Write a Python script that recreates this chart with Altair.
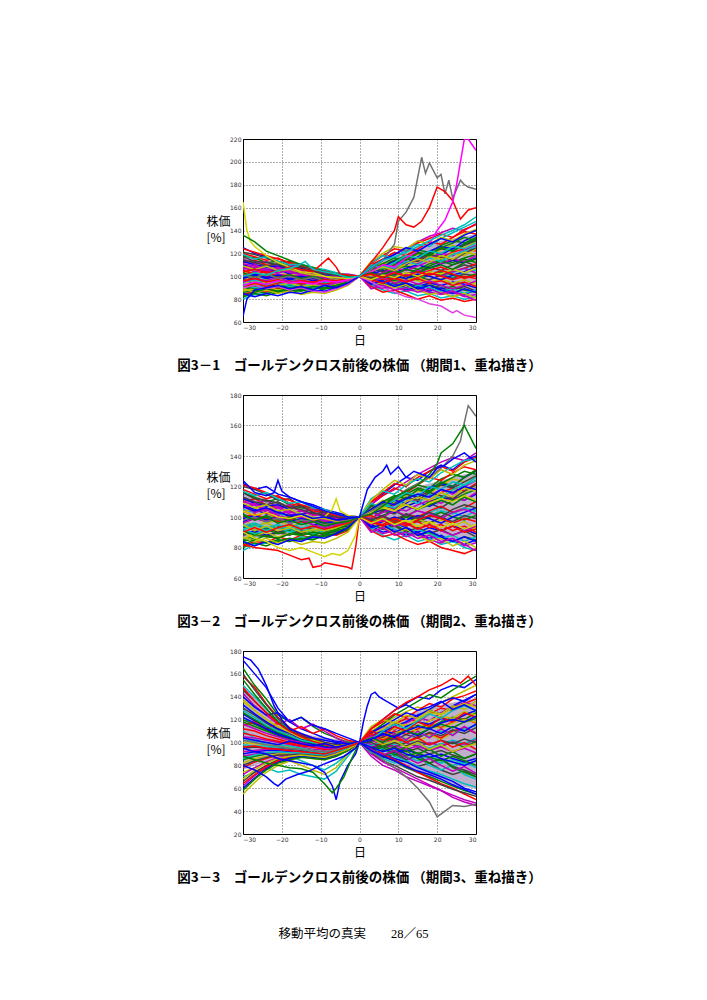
import altair as alt
import pandas as pd

DAYS = [-30, -27, -24, -21, -18, -15, -12, -9, -6, -3, 0, 3, 6, 9, 12, 15, 18, 21, 24, 27, 30]
X_TICKS = [-30, -20, -10, 0, 10, 20, 30]
COLORS = ["#0000ff", "#008000", "#ff0000", "#00bfbf", "#bf00bf", "#bfbf00", "#404040"]

# ---------------- Panel 1 (period 1) ----------------
P1_CORE_LO = [84, 85, 86, 87, 88, 89, 89, 90, 91, 94, 100, 93, 90, 88, 87, 86, 85, 84, 83, 83, 82]
P1_CORE_HI = [118, 116, 113, 111, 108, 106, 104, 103, 101, 100, 100, 108, 113, 118, 122, 126, 129, 131, 133, 135, 137]
P1_LINES = [
    [125,120,117,113,110,107,104,102,101, 98,100,104,107,112,110,116,121,119,124,128,132],
    [118,116,112,113,109,106,105,103, 99, 97,100, 97, 94, 96, 92, 90, 93, 89, 91, 88, 86],
    [112,114,110,108,107,104,106,102,100, 99,100,103,109,106,112,114,118,116,121,124,122],
    [108,105,107,104,103,100,101, 99, 97, 98,100, 95, 98,101, 97,100,104,102, 99,103,106],
    [104,102, 99,101, 98, 97, 99, 96, 95, 97,100,106,104,109,113,111,116,120,118,123,127],
    [100, 98,101, 97, 96, 98, 95, 94, 96, 95,100,101, 98, 95, 99, 96, 93, 97, 94, 91, 95],
    [ 96, 99, 95, 97, 94, 96, 93, 95, 93, 96,100, 98,103,101,106,104,108,105,110,113,109],
    [ 92, 94, 91, 93, 95, 92, 94, 91, 94, 95,100, 94, 90, 93, 88, 91, 87, 90, 86, 84, 88],
    [ 88, 91, 90, 89, 92, 93, 90, 92, 91, 94,100,105,110,114,118,123,121,127,131,129,134],
    [ 84, 87, 86, 90, 88, 91, 89, 92, 90, 93,100, 97,101, 99,103,101,105,108,104,107,111],
    [ 80, 84, 85, 88, 87, 90, 89, 91, 92, 94,100, 92, 88, 85, 87, 83, 85, 81, 83, 80, 82],
    [115,111,113,108,110,105,107,104,101,102,100,108,115,119,124,130,135,138,142,140,146],
    [102,106,103,105,101,103, 99,100, 97, 99,100,102,106,110,108,113,117,115,120,118,124],
    [ 97, 93, 95, 91, 93, 90, 92, 89, 93, 95,100, 99, 95, 98,102, 99, 97,101, 98,102,100],
    [110,107,104,106,102,104,100,101, 98, 97,100, 96, 93, 97, 94, 91, 94, 92, 95, 93, 90],
    [ 86, 88, 85, 87, 86, 88, 86, 89, 90, 93,100,104,101,106,109,106,111,114,112,116,119],
    [120,117,114,116,111,109,106,105,102,100,100,111,118,124,122,129,133,137,134,141,145],
    [ 94, 96, 98, 95, 97, 95, 96, 94, 95, 96,100, 97,100, 97, 95, 98,102,105,103,107,105],
    [106,108,104,103,105,101, 99,100, 98, 97,100, 93, 89, 91, 87, 89, 86, 84, 86, 82, 84],
    [ 99, 95, 97, 94, 95, 93, 95, 92, 94, 96,100,107,112,110,116,119,117,123,127,125,130],
    [ 90, 92, 89, 92, 90, 93, 91, 93, 92, 95,100, 95, 92, 94, 90, 93, 89, 92, 88, 91, 87],
    [113,110,108,109,106,103,104,101,100, 99,100,102,105,103,107,110,107,111,114,112,116],
    [ 82, 85, 83, 86, 88, 87, 90, 89, 91, 93,100, 96, 99, 96,100, 97,101,104,101, 99,102],
    [101,103,100, 98,100, 97, 98, 96, 97, 98,100,110,115,121,118,124,130,128,134,139,137],
    [ 95, 97, 94, 96, 92, 94, 92, 93, 95, 97,100, 92, 95, 92, 89, 92, 90, 87, 89, 85, 88],
    [108,104,106,102,100,101, 98, 99, 96, 98,100, 99,103,107,105,109,113,111,115,113,118],
    [ 87, 89, 91, 88, 90, 89, 92, 90, 93, 94,100,101, 97,100, 96, 99, 95, 98, 94, 97, 93],
    [117,113,112,110,107,106,103,104,100, 99,100,105,109,113,117,115,120,124,122,127,131],
    [ 98,101, 98,100, 97, 99, 96, 97, 95, 98,100, 94, 97,100, 98,102,100, 97,101,104,108],
    [ 92, 89, 93, 90, 92, 89, 91, 90, 92, 94,100, 98,102,105,101,106,109,113,110,115,112],
    [105,102,104,100,101, 98, 99, 97, 96, 97,100, 91, 86, 88, 84, 80, 83, 79, 81, 78, 80],
    [ 93, 90, 92, 94, 91, 93, 90, 92, 94, 96,100,112,118,116,123,128,126,133,138,143,148],
    [111,109,105,107,103,102,100, 98, 99, 97,100,103,100,104,101,105,103,100,104,107,103],
    [ 89, 86, 88, 85, 87, 84, 86, 85, 88, 92,100, 96, 93, 90, 93, 88, 84, 86, 82, 85, 81],
    [121,119,116,112,113,108,107,104,103,101,100,107,104,110,115,113,119,117,114,120,125],
    [ 99,102, 99,101, 98,100, 98, 97, 98, 99,100,103,108,113,111,117,122,126,124,131,136],
    [ 83, 86, 89, 87, 90, 88, 91, 90, 92, 95,100,109,106,112,116,121,119,125,122,128,133],
    [124,121,118,115,112,110,107,105,102,100,100,102, 97, 99, 95, 98, 94, 96, 92, 95, 91],
    [ 91, 95, 92, 96, 93, 97, 94, 96, 95, 97,100,104,109,107,113,110,116,113,119,122,126],
    [107,110,106,108,104,105,102,103,100, 98,100, 95, 99, 94, 97, 93, 96, 92, 89, 92, 96],
    [ 96, 92, 95, 92, 94, 91, 93, 92, 94, 96,100,113,120,126,124,131,128,134,131,137,141],
    [114,112,109,111,107,108,104,102,101, 99,100, 98,101, 98,103,100,104,101,106,110,107],
    [ 85, 82, 85, 83, 86, 85, 88, 87, 90, 93,100, 93, 96, 91, 94, 89, 92, 88, 85, 89, 86],
    [103, 99,102, 99,101, 98,100, 97, 96, 98,100,106,111,116,114,120,118,125,129,134,131],
    [ 90, 94, 91, 94, 96, 93, 95, 93, 95, 97,100, 97, 94, 98, 95, 99,103,100, 97,100, 98],
    [119,115,117,113,110,111,107,106,103,101,100,110,107,112,118,116,122,120,126,124,129],
    [ 95, 98, 96, 99, 95, 97, 94, 92, 94, 96,100, 89, 92, 88, 90, 86, 89, 85, 87, 83, 79],
    [109,106,109,105,106,103,101,100, 97, 97,100,104,108,105,111,115,112,118,115,121,119],
]
P1_SPECIAL_DAYS = [
    [-30,-27,-24,-21,-18,-15,-12,-9,-6,-3,0,3,6,9,10,12,14,16,17,18,20,21,22,23,24,26,27,28,30],
    [-30,-27,-24,-21,-18,-15,-12,-9,-6,-3,0,3,6,9,10,12,14,16,18,20,22,24,26,28,30],
    [-30,-27,-24,-21,-18,-15,-12,-9,-6,-3,0,3,6,9,12,15,18,20,22,24,25,26,27,28,29,30],
    [-30,-27,-24,-21,-18,-15,-12,-9,-6,-3,0,3,6,9,12,15,18,21,24,25,27,30],
    [-30,-29,-28,-27,-24,-21,-18,-15,-12,-9,-6,-3,0,3,6,9,12,15,18,21,24,27,30],
    [-30,-29,-27,-24,-21,-18,-15,-12,-9,-6,-3,0,3,6,9,12,15,18,21,24,27,30],
    DAYS,
    [-30,-27,-24,-21,-18,-15,-12,-10,-8,-6,-5,-3,0,3,6,9,12,15,18,21,24,27,30],
    [-30,-27,-24,-21,-18,-16,-14,-12,-9,-6,-3,0,3,6,9,12,15,18,21,24,27,30],
]
P1_SPECIAL_VALUES = [
    [101,99,102,98,100,97,99,96,98,97,100,106,114,128,148,156,169,204,190,199,186,189,172,184,168,184,180,178,176],
    [96,98,95,97,94,96,95,97,96,98,100,112,125,140,152,145,143,148,160,178,174,166,150,158,160],
    [92,95,93,96,94,95,93,96,95,97,100,104,110,108,116,122,128,140,149,165,180,200,220,220,215,210],
    [90,92,89,91,88,90,87,86,89,93,100,95,90,86,82,80,76,74,68,70,66,64],
    [165,140,130,126,118,112,108,104,103,100,99,98,100,97,101,99,103,100,104,102,106,103,107],
    [65,80,88,90,92,89,91,88,92,90,94,100,108,114,119,125,122,128,133,130,136,140],
    [136,130,122,118,114,110,108,104,102,100,100,103,99,102,106,103,107,110,106,112,115],
    [104,106,103,105,108,106,104,110,116,108,102,101,100,102,99,103,100,104,101,105,102,98,101],
    [100,103,101,105,107,109,113,106,104,102,99,100,108,114,117,121,126,131,136,140,145,152],
]
P1_SPECIAL_COLORS = ["#707070", "#ff0000", "#ff00ff", "#e040e0", "#d4d400", "#0000ff", "#008000", "#ff0000", "#00bfbf"]

# ---------------- Panel 2 (period 2) ----------------
P2_CORE_LO = [85, 86, 87, 88, 88, 89, 89, 90, 91, 93, 100, 94, 91, 89, 88, 87, 86, 85, 84, 84, 83]
P2_CORE_HI = [116, 114, 112, 110, 108, 106, 104, 103, 102, 101, 100, 106, 110, 114, 117, 120, 122, 124, 126, 128, 129]
P2_LINES = [
    [122,118,120,115,113,110,108,105,103,101,100,108,115,121,126,124,130,134,131,137,140],
    [116,113,110,112,108,106,105,102,100, 99,100, 96, 92, 95, 91, 88, 90, 86, 84, 87, 85],
    [110,112,108,106,107,104,102,101, 99, 98,100,104,108,105,110,113,111,116,119,117,122],
    [105,103,106,102,101, 99,100, 98, 96, 97,100, 97,100, 98,102, 99,103,106,103,100,104],
    [101, 98,100, 97, 99, 96, 98, 95, 96, 98,100,106,103,108,112,110,114,118,115,120,124],
    [ 97,100, 96, 98, 94, 96, 94, 95, 94, 96,100,101, 97, 94, 97, 93, 95, 91, 94, 90, 93],
    [ 93, 95, 92, 94, 91, 93, 92, 90, 92, 95,100, 99,104,102,107,105,109,106,111,114,110],
    [ 89, 91, 88, 90, 92, 89, 91, 89, 91, 94,100, 94, 90, 92, 88, 90, 86, 88, 84, 82, 85],
    [ 85, 88, 87, 86, 89, 90, 88, 90, 89, 92,100,104,109,113,117,121,119,125,128,126,131],
    [ 81, 84, 83, 87, 85, 88, 86, 89, 88, 91,100, 96,100, 98,102,100,104,107,103,106,110],
    [ 78, 82, 83, 85, 84, 87, 86, 88, 89, 92,100, 92, 88, 85, 88, 84, 86, 82, 84, 80, 78],
    [113,109,111,106,108,104,105,102, 99,100,100,108,114,118,123,128,132,136,139,137,142],
    [103,106,102,104,100,102, 98, 99, 96, 98,100,102,105,109,107,111,115,113,118,116,121],
    [ 95, 91, 93, 90, 92, 89, 91, 88, 92, 94,100, 98, 94, 97,101, 98, 96,100, 97,101, 99],
    [108,105,102,104,100,102, 99,100, 97, 96,100, 96, 92, 96, 93, 90, 93, 91, 94, 92, 89],
    [ 84, 86, 83, 85, 84, 86, 85, 88, 89, 92,100,104,100,105,108,105,110,113,111,115,118],
    [118,115,112,114,109,107,104,103,100, 99,100,110,116,122,120,126,130,133,130,136,139],
    [ 92, 94, 96, 93, 95, 93, 94, 92, 93, 95,100, 96, 99, 96, 94, 97,101,104,102,106,104],
    [106,108,103,102,104,100, 98, 99, 97, 96,100, 93, 89, 91, 87, 89, 85, 83, 86, 81, 83],
    [ 98, 94, 96, 93, 94, 92, 94, 91, 93, 95,100,106,111,109,114,117,115,121,125,123,127],
    [ 88, 90, 87, 90, 88, 91, 89, 91, 90, 93,100, 95, 92, 94, 90, 93, 89, 92, 88, 91, 87],
    [112,109,107,108,105,102,103,100, 99, 98,100,102,105,103,107,110,107,111,113,111,115],
    [ 80, 83, 81, 84, 86, 85, 88, 87, 89, 92,100, 96, 99, 96,100, 97,100,103,100, 98,101],
    [100,102, 99, 97, 99, 96, 97, 95, 96, 97,100,110,114,119,116,121,126,124,129,133,131],
    [ 94, 96, 93, 95, 91, 93, 91, 92, 94, 96,100, 92, 95, 92, 89, 92, 89, 86, 88, 84, 87],
    [107,103,105,101, 99,100, 97, 98, 95, 97,100, 99,103,106,104,108,111,109,113,111,116],
    [ 86, 88, 90, 87, 89, 88, 91, 89, 92, 93,100,101, 97,100, 96, 99, 95, 98, 94, 97, 92],
    [116,112,111,109,106,105,102,103, 99, 98,100,105,108,112,115,113,117,121,119,123,127],
    [ 97,100, 97, 99, 96, 98, 95, 96, 94, 97,100, 94, 97,100, 98,101, 99, 96,100,103,106],
    [ 91, 88, 92, 89, 91, 88, 90, 89, 91, 93,100, 98,101,104,100,105,108,111,108,113,110],
    [104,101,103, 99,100, 97, 98, 96, 95, 96,100, 91, 87, 89, 85, 82, 84, 80, 78, 76, 79],
    [ 92, 89, 91, 93, 90, 92, 89, 91, 93, 95,100,112,117,115,121,125,123,129,133,137,138],
    [110,108,104,106,102,101, 99, 97, 98, 96,100,103,100,104,101,104,102, 99,103,105,102],
    [ 87, 84, 86, 83, 85, 82, 84, 83, 86, 90,100, 96, 93, 90, 92, 88, 84, 86, 81, 84, 80],
    [120,118,115,111,112,107,106,103,102,100,100,107,104,109,113,111,116,114,112,117,121],
    [ 99,101, 98,100, 97, 99, 97, 96, 97, 98,100,103,107,111,109,114,119,122,120,126,130],
    [ 82, 85, 88, 86, 89, 88, 90, 89, 92, 95,100,108,105,111,115,119,117,123,120,126,130],
    [121,119,116,113,111,108,106,104,101,100,100,101, 97, 99, 95, 97, 93, 95, 91, 94, 90],
    [ 92, 95, 91, 95, 92, 96, 93, 95, 94, 97,100,104,108,106,112,109,115,112,118,121,124],
    [106,109,105,107,103,104,101,102, 99, 97,100, 95, 98, 94, 96, 92, 95, 91, 88, 91, 94],
    [ 95, 91, 94, 91, 93, 90, 92, 91, 93, 96,100,111,118,124,121,128,125,131,128,134,137],
    [113,110,108,110,106,107,103,101,100, 99,100, 98,101, 97,102, 99,103,100,105,108,106],
    [ 84, 81, 84, 82, 85, 84, 87, 86, 89, 93,100, 93, 95, 90, 93, 88, 91, 87, 84, 87, 84],
    [102, 98,101, 98,100, 97, 99, 96, 95, 97,100,105,110,114,112,118,116,122,126,130,128],
    [ 90, 93, 90, 93, 95, 92, 94, 92, 94, 96,100, 97, 94, 97, 94, 98,101, 99, 96, 99, 97],
    [117,114,116,112,109,110,106,105,102,100,100,109,106,111,116,114,120,118,123,121,126],
    [ 96, 99, 97,100, 96, 98, 95, 93, 95, 97,100, 90, 93, 88, 90, 86, 88, 84, 86, 82, 78],
    [109,106,108,104,105,102,100, 99, 97, 97,100,104,107,104,110,113,111,116,113,119,117],
]
P2_SPECIAL_DAYS = [
    [-30,-27,-24,-21,-20,-18,-15,-13,-12,-10,-9,-7,-5,-3,-2,-1,0,3,6,9,12,15,18,21,24,27,30],
    [-30,-27,-24,-21,-18,-15,-12,-9,-7,-5,-3,-1,0,3,6,9,12,15,18,21,24,27,30],
    [-30,-27,-24,-21,-18,-15,-12,-9,-7,-6,-5,-3,0,3,6,9,12,15,18,21,24,27,30],
    [-30,-27,-24,-22,-21,-20,-18,-15,-12,-9,-6,-3,0,3,6,9,12,15,18,21,24,27,30],
    [-30,-27,-24,-21,-18,-15,-12,-9,-6,-3,0,3,6,9,12,15,18,21,24,26,27,28,30],
    [-30,-27,-24,-21,-18,-15,-12,-9,-6,-3,0,3,6,9,12,15,18,20,21,24,27,28,30],
    [-30,-27,-24,-21,-18,-15,-12,-9,-6,-3,0,2,4,6,7,8,10,12,14,16,18,20,22,24,27,30],
]
P2_SPECIAL_VALUES = [
    [82,80,79,78,77,75,72,73,67,68,70,69,68,67,66,80,100,97,95,99,96,92,95,91,94,90,92],
    [90,86,84,80,78,80,77,74,76,75,78,88,100,96,99,95,98,94,97,93,96,92,95],
    [104,101,103,100,99,101,98,100,105,112,104,101,100,103,106,104,108,105,109,112,110,114,111],
    [124,116,114,116,124,117,113,110,107,104,102,100,100,105,110,108,112,115,113,118,116,120,118],
    [98,100,97,99,96,98,97,95,96,98,100,104,108,112,118,122,126,132,140,150,162,173,166],
    [101,98,100,96,98,95,97,94,96,97,100,102,107,113,117,121,128,135,142,148,160,155,145],
    [107,104,106,103,101,102,99,100,98,99,100,118,126,130,134,128,133,126,130,128,126,132,134,138,142,136],
]
P2_SPECIAL_COLORS = ["#ff0000", "#d4d400", "#d4d400", "#0000ff", "#707070", "#008000", "#0000ff"]

# ---------------- Panel 3 (period 3) ----------------
P3_CORE_LO = [76, 80, 83, 85, 86, 87, 87, 86, 88, 92, 100, 92, 86, 81, 77, 73, 69, 66, 63, 61, 60]
P3_CORE_HI = [150, 140, 130, 120, 113, 108, 106, 104, 103, 102, 100, 108, 114, 119, 123, 127, 130, 133, 135, 137, 139]
P3_LINES = [
    [172,160,148,130,118,112,108,104,101,100,100,112,120,128,134,140,138,146,150,148,155],
    [165,150,138,124,118,122,114,108,104,100,100, 94, 88, 84, 78, 74, 70, 66, 62, 58, 55],
    [158,148,134,122,113,107,104,100, 98, 97,100,105,110,116,121,118,125,130,128,134,138],
    [150,140,129,119,111,105,102, 99, 97, 99,100, 96, 92, 95, 90, 86, 88, 84, 80, 83, 78],
    [143,132,124,116,120,112,116,110,104, 99,100,108,114,111,117,122,119,126,131,135,132],
    [136,128,120,113,107,103,100, 97, 98, 97,100, 98,102, 99,104,101,106,103,108,112,109],
    [130,124,117,111,106,101, 99, 96, 95, 97,100, 93, 87, 90, 84, 79, 82, 76, 72, 75, 70],
    [125,119,114,108,104,102, 98, 97, 94, 96,100,103,109,114,118,124,128,125,132,137,142],
    [120,116,111,107,103, 99, 97, 95, 96, 98,100, 95, 99, 96,100, 97, 93, 97,100, 96,101],
    [115,118,112,117,110,114,108,112,106,102,100,107,104,110,107,112,116,113,118,121,117],
    [110,104, 98, 92, 88, 84, 80, 76, 82, 90,100, 91, 86, 82, 84, 79, 75, 72, 68, 64, 61],
    [105,104,102,100, 98, 96, 94, 93, 95, 97,100,102, 98,103,100, 96,100, 97,101, 98,103],
    [100, 99, 98, 97, 96, 95, 93, 92, 94, 96,100,110,116,122,127,131,128,135,140,145,150],
    [ 95, 96, 95, 95, 94, 93, 92, 91, 93, 96,100, 97, 93, 96, 92, 95, 90, 93, 89, 86, 90],
    [ 90, 92, 93, 93, 92, 92, 91, 90, 92, 95,100, 94, 90, 86, 83, 78, 74, 70, 66, 60, 57],
    [ 85, 88, 90, 91, 91, 91, 90, 89, 92, 95,100,104,108,106,111,115,113,118,122,120,126],
    [ 78, 83, 86, 89, 90, 90, 89, 88, 91, 94,100, 96,100,104,100,105,108,104,110,113,108],
    [ 70, 74, 78, 74, 76, 72, 70, 68, 75, 88,100, 92, 88, 91, 87, 84, 86, 82, 85, 81, 84],
    [ 62, 71, 78, 84, 86, 88, 87, 86, 89, 93,100, 88, 80, 76, 70, 66, 62, 58, 52, 48, 45],
    [ 55, 65, 74, 80, 84, 87, 86, 85, 88, 93,100,106,112,118,114,120,126,124,130,134,131],
    [146,136,126,118,110,106,102, 99, 97, 99,100,101,105,102,107,104,109,106,111,108,113],
    [133,125,118,112,108,103,100, 98, 99, 98,100, 98, 94, 91, 94, 90, 87, 90, 86, 83, 86],
    [118,114,110,106,102,100, 98, 96, 96, 98,100,108,116,124,130,136,142,139,146,152,158],
    [108,106,103,101, 99, 97, 96, 94, 93, 96,100, 95, 90, 85, 80, 74, 69, 64, 60, 55, 50],
    [ 98, 97, 97, 96, 95, 94, 92, 91, 93, 96,100,104,101,106,103,108,105,110,107,112,115],
    [ 88, 90, 91, 91, 91, 90, 89, 88, 91, 95,100, 98, 95, 98, 94, 97, 93, 96, 92, 95, 91],
    [ 74, 78, 82, 80, 84, 80, 76, 72, 78, 90,100,103,108,112,116,113,119,123,121,127,124],
    [ 66, 74, 80, 85, 87, 88, 88, 87, 90, 94,100, 91, 84, 80, 75, 70, 67, 63, 59, 56, 53],
    [140,131,124,126,118,122,115,112,108,104,100,106,110,108,114,118,116,121,119,124,128],
    [126,120,114,109,105,101, 99, 97, 95, 97,100, 93, 89, 93, 88, 91, 87, 84, 88, 84, 80],
    [112,110,106,103,100, 98, 96, 94, 95, 97,100,112,118,125,122,128,134,131,138,141,145],
    [102,101,100, 98, 97, 95, 93, 92, 93, 96,100, 97,101, 98,102, 99, 95, 99,102, 99,104],
    [ 92, 93, 94, 94, 93, 92, 90, 89, 91, 95,100, 90, 83, 78, 73, 68, 63, 58, 54, 50, 47],
    [ 82, 86, 88, 90, 90, 90, 89, 88, 91, 95,100,105,103,108,112,110,115,112,117,120,118],
    [160,146,133,121,112,106,103,100, 98, 98,100,100, 96,100, 97,101, 98,102, 99,103,100],
    [ 60, 69, 77, 83, 86, 88, 87, 86, 89, 93,100,109,114,120,126,123,129,135,139,136,142],
    [155,142,130,118,110,104,100, 97, 95, 97,100, 94, 98, 92, 96, 90, 94, 88, 92, 86, 90],
    [ 64, 72, 79, 84, 88, 90, 89, 88, 90, 94,100,110,106,114,110,118,114,122,118,126,122],
    [128,122,115,110,106,102,100, 98, 96, 98,100, 91, 95, 88, 84, 88, 80, 76, 80, 72, 68],
    [ 72, 78, 83, 87, 89, 91, 90, 89, 91, 95,100,106,100,108,102,110,104,112,106,114,108],
    [138,128,120,114,109,104,102, 99, 97, 98,100,114,120,117,124,121,128,125,132,129,136],
    [ 80, 84, 87, 89, 89, 90, 89, 88, 90, 95,100, 95, 88, 92, 85, 89, 82, 86, 79, 76, 72],
    [122,117,112,107,104,100, 98, 96, 95, 97,100,102,108,104,110,106,112,108,114,110,116],
    [ 58, 68, 76, 82, 85, 87, 86, 85, 88, 93,100, 92, 96, 89, 93, 86, 82, 86, 78, 74, 70],
    [148,136,126,117,110,105,101, 98, 96, 98,100,108,102,106,100,104, 98,102, 96,100, 94],
    [ 86, 89, 91, 92, 91, 91, 90, 89, 92, 95,100,103,110,116,112,119,125,121,128,132,128],
    [116,112,108,105,102,100, 97, 95, 94, 97,100, 94, 89, 93, 87, 82, 86, 80, 75, 79, 73],
    [ 68, 76, 82, 86, 88, 89, 88, 87, 90, 94,100,104, 98,102, 96,100, 94, 98, 92, 96, 99],
]
P3_SPECIAL_DAYS = [
    [-30,-27,-24,-21,-18,-15,-12,-9,-7,-6,-5,-3,-1,0,3,6,9,12,15,18,21,24,27,30],
    [-30,-27,-24,-21,-18,-15,-12,-9,-7,-6,-4,-2,0,3,6,9,12,15,18,21,24,27,30],
    [-30,-27,-24,-21,-18,-15,-12,-9,-6,-3,0,1,2,3,4,5,6,8,10,12,15,18,21,24,27,30],
    [-30,-28,-26,-24,-22,-20,-18,-15,-12,-9,-6,-3,0,3,6,9,12,15,18,21,24,27,30],
    [-30,-27,-24,-21,-18,-15,-12,-9,-6,-3,0,3,6,9,12,15,18,20,22,24,27,30],
    [-30,-27,-24,-21,-18,-15,-12,-9,-6,-3,0,3,6,9,12,15,18,21,24,26,28,30],
    [-30,-27,-24,-22,-21,-19,-16,-13,-10,-7,-4,-1,0,3,6,9,12,15,18,21,24,27,30],
]
P3_SPECIAL_VALUES = [
    [95,92,90,86,84,82,80,74,62,50,66,80,90,100,96,92,95,90,87,90,86,83,80,84],
    [88,85,82,80,78,77,74,64,56,60,70,86,100,104,100,106,110,107,112,116,113,118,121],
    [104,102,100,98,101,99,97,99,96,98,100,118,132,142,144,140,138,134,130,133,128,131,136,129,133,128],
    [175,172,164,150,132,120,112,108,104,102,100,99,100,103,107,105,110,114,112,117,120,118,123],
    [102,100,98,97,95,94,93,92,94,97,100,92,85,78,70,60,48,35,40,45,44,46],
    [96,97,95,94,93,92,91,90,93,96,100,112,120,128,135,140,146,150,156,152,158,150],
    [80,76,70,64,62,68,72,75,80,84,88,95,100,93,88,84,79,75,72,68,63,59,55],
]
P3_SPECIAL_COLORS = ["#0000ff", "#008000", "#0000ff", "#0000ff", "#707070", "#ff0000", "#0000ff"]

CAPTIONS = [
    "図3－1　ゴールデンクロス前後の株価 （期間1、重ね描き）",
    "図3－2　ゴールデンクロス前後の株価 （期間2、重ね描き）",
    "図3－3　ゴールデンクロス前後の株価 （期間3、重ね描き）",
]
Y_RANGES = [(60, 220), (60, 180), (20, 180)]
Y_TICKS = [list(range(60, 221, 20)), list(range(60, 181, 20)), list(range(20, 181, 20))]
FOOTER = "移動平均の真実　　28／65"


def build_frame(lines, sp_days, sp_vals, sp_cols):
    rows = []
    for i, vals in enumerate(lines):
        assert len(vals) == len(DAYS), (i, len(vals))
        c = COLORS[i % len(COLORS)]
        for d, v in zip(DAYS, vals):
            rows.append({"id": f"a{i:03d}", "day": d, "value": v, "col": c})
    for j, (ds, vs, c) in enumerate(zip(sp_days, sp_vals, sp_cols)):
        assert len(ds) == len(vs), (j, len(ds), len(vs))
        for d, v in zip(ds, vs):
            rows.append({"id": f"s{j:03d}", "day": d, "value": v, "col": c})
    return pd.DataFrame(rows)


def panel(df, lo, hi, yr, yt, caption):
    xscale = alt.Scale(domain=[-30, 30], nice=False, zero=False)
    xaxis = alt.Axis(values=X_TICKS, title="日", titleFontSize=12,
                     titleFont="Noto Sans CJK JP", titleFontWeight="normal",
                     titleColor="black", titlePadding=5)
    yscale = alt.Scale(domain=list(yr), nice=False, zero=False)
    yaxis = alt.Axis(values=yt, title=["株価", "[%]"], titleAngle=0,
                     titleFontSize=12, titleFont="Noto Sans CJK JP",
                     titleFontWeight="normal", titleColor="black",
                     titleAlign="left", titleBaseline="middle",
                     titleX=-37, titleY=82, titleLineHeight=16)
    band_df = pd.DataFrame({"day": DAYS, "lo": lo, "hi": hi})
    band = alt.Chart(band_df).mark_area(color="#80609a", opacity=0.5, clip=True).encode(
        x=alt.X("day:Q", scale=xscale, axis=xaxis),
        y=alt.Y("lo:Q", scale=yscale, axis=yaxis),
        y2="hi:Q",
    )
    lines = alt.Chart(df).mark_line(strokeWidth=1.5, clip=True).encode(
        x=alt.X("day:Q", scale=xscale, axis=xaxis),
        y=alt.Y("value:Q", scale=yscale, axis=yaxis),
        color=alt.Color("col:N", scale=None),
        detail="id:N",
    )
    return alt.layer(band, lines).properties(
        width=233, height=183,
        title=alt.TitleParams(caption, orient="bottom", anchor="middle", fontSize=13.5,
                              font="Noto Sans CJK JP", fontWeight="bold", color="black",
                              offset=13),
    )


frames = [
    build_frame(P1_LINES, P1_SPECIAL_DAYS, P1_SPECIAL_VALUES, P1_SPECIAL_COLORS),
    build_frame(P2_LINES, P2_SPECIAL_DAYS, P2_SPECIAL_VALUES, P2_SPECIAL_COLORS),
    build_frame(P3_LINES, P3_SPECIAL_DAYS, P3_SPECIAL_VALUES, P3_SPECIAL_COLORS),
]
cores = [(P1_CORE_LO, P1_CORE_HI), (P2_CORE_LO, P2_CORE_HI), (P3_CORE_LO, P3_CORE_HI)]

panels = [panel(f, c[0], c[1], yr, yt, cap)
          for f, c, yr, yt, cap in zip(frames, cores, Y_RANGES, Y_TICKS, CAPTIONS)]

chart = alt.vconcat(*panels, spacing=18).properties(
    padding={"top": 127, "left": 168, "right": 10, "bottom": 10},
    title=alt.TitleParams(FOOTER, orient="bottom", anchor="middle", fontSize=12.5,
                          font="Liberation Serif, Noto Sans CJK JP", fontWeight="normal",
                          color="black", offset=43, dx=-6),
).configure_view(
    stroke="black", strokeWidth=1
).configure_axis(
    grid=True, gridColor="black", gridDash=[1, 2], gridOpacity=0.8, gridWidth=0.8,
    domain=False, ticks=False, labelFontSize=6, labelColor="#333333",
    labelFont="DejaVu Sans", labelPadding=2,
)

chart.save("out.html", embed_options={"renderer": "svg", "actions": False})
